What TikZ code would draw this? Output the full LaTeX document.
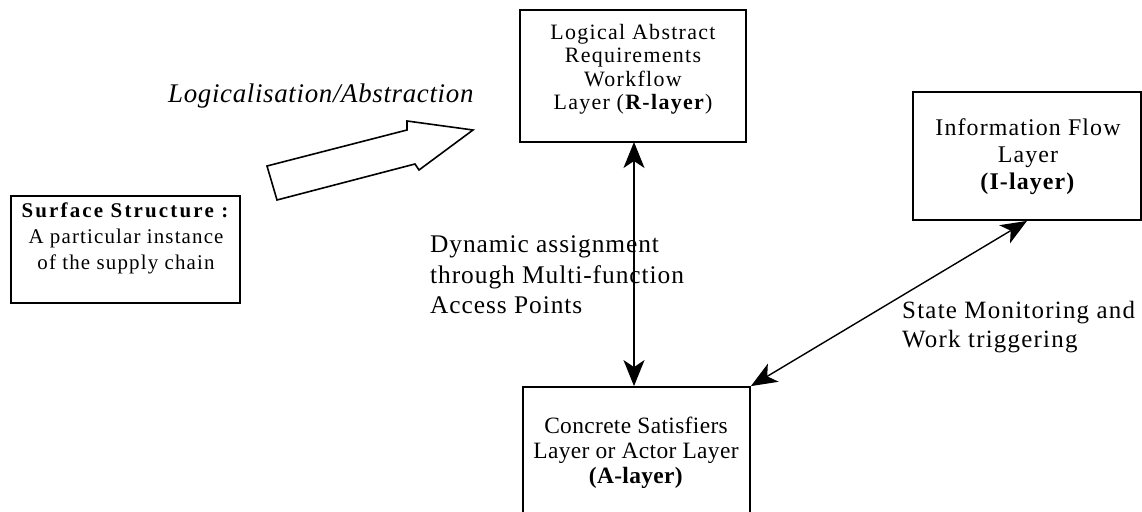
\documentclass[tikz,border=0pt]{standalone}
\usepackage{fontspec}
\setmainfont{Liberation Serif}
\usetikzlibrary{arrows.meta}
\begin{document}
\begin{tikzpicture}[x=1bp,y=-1bp,
  layerbox/.style={draw, line width=1.8bp, inner sep=0pt},
  boxtext/.style={align=center, inner sep=0pt, anchor=base},
  lbl/.style={align=left, inner sep=0pt, anchor=base west},
  dbl/.style={line width=1.4bp, {Stealth[length=26bp,width=21bp,inset=7bp]}-{Stealth[length=26bp,width=21bp,inset=7bp]}}]
\useasboundingbox (0,0) rectangle (1142,512);
% boxes
\node[layerbox, minimum width=229bp, minimum height=107bp] (S) at (125.5,249.5) {};
\node[layerbox, minimum width=226bp, minimum height=132bp] (R) at (633,76) {};
\node[layerbox, minimum width=228bp, minimum height=128bp] (I) at (1027,156) {};
\node[layerbox, minimum width=227bp, minimum height=140bp] (A) at (636.5,457) {};
% box texts
\node[boxtext, font=\fontsize{21}{26.5}\selectfont\addfontfeatures{LetterSpace=5.5}] (St) at (126,270) {{\addfontfeatures{LetterSpace=10.5}\textbf{Surface Structure :}}\\A particular instance\\of the supply chain};
\node[boxtext, font=\fontsize{22}{23.7}\selectfont\addfontfeatures{LetterSpace=6}] (Rt) at (633,110) {Logical Abstract\\Requirements\\Workflow\\Layer (\textbf{R-layer})};
\node[boxtext, font=\fontsize{24}{27.5}\selectfont\addfontfeatures{LetterSpace=4.7}] (It) at (1028,190) {Information Flow\\Layer\\\textbf{(I-layer)}};
\node[boxtext, font=\fontsize{23.5}{25}\selectfont\addfontfeatures{LetterSpace=1.5}] (At) at (636,483) {Concrete Satisfiers\\Layer or Actor Layer\\\textbf{(A-layer)}};
% labels
\node[lbl, font=\fontsize{27}{31}\selectfont\itshape\addfontfeatures{LetterSpace=2.5}] (L1) at (168,103) {Logicalisation/Abstraction};
\node[lbl, font=\fontsize{25.5}{31}\selectfont\addfontfeatures{LetterSpace=3.7}] (L2) at (430,314) {Dynamic assignment\\through Multi-function\\Access Points};
\node[lbl, font=\fontsize{25}{30}\selectfont\addfontfeatures{LetterSpace=5}] (L3) at (902,348) {State Monitoring and\\Work triggering};
% connectors
\coordinate (Rbot) at (634,142);
\coordinate (Atop) at (Rbot |- A.north);
\draw[dbl] (Rbot) -- (Atop);
\draw[dbl] (I.south) -- (A.north east);
% block arrow
\draw[line width=1.6bp, line join=miter] (267,166) -- (407,130) -- (407,121) -- (473,130) -- (419,170) -- (415,164) -- (277,200) -- cycle;
\end{tikzpicture}
\end{document}
